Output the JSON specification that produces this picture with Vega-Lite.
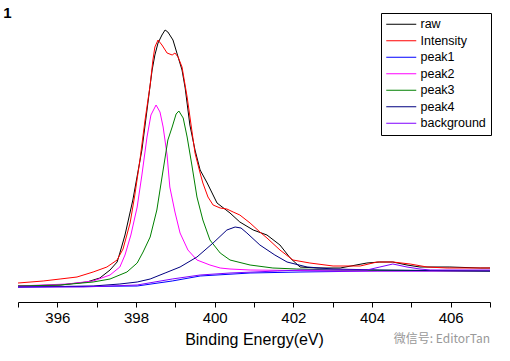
{
  "$schema": "https://vega.github.io/schema/vega-lite/v6.json",
  "width": 472,
  "height": 302,
  "autosize": {"type": "none"},
  "padding": {"left": 18, "top": 0, "right": 20, "bottom": 59},
  "background": "white",
  "title": {"text": "微信号: EditorTan", "orient": "bottom", "anchor": "end", "frame": "group", "fontSize": 12, "fontWeight": "normal", "color": "#999999", "font": "Noto Sans CJK SC", "dy": -17},
  "data": {"values": [
    {"s":"raw","x":395.00,"y":16},{"s":"raw","x":396.07,"y":17},{"s":"raw","x":396.75,"y":20},{"s":"raw","x":397.08,"y":24},{"s":"raw","x":397.34,"y":32},{"s":"raw","x":397.52,"y":40},{"s":"raw","x":397.59,"y":49},{"s":"raw","x":397.72,"y":67},{"s":"raw","x":397.92,"y":102},{"s":"raw","x":398.15,"y":152},{"s":"raw","x":398.28,"y":192},{"s":"raw","x":398.36,"y":217},{"s":"raw","x":398.41,"y":232},{"s":"raw","x":398.48,"y":247},{"s":"raw","x":398.56,"y":259},{"s":"raw","x":398.66,"y":267},{"s":"raw","x":398.74,"y":272},{"s":"raw","x":398.81,"y":270},{"s":"raw","x":398.94,"y":262},{"s":"raw","x":399.07,"y":245},{"s":"raw","x":399.17,"y":232},{"s":"raw","x":399.25,"y":214},{"s":"raw","x":399.37,"y":177},{"s":"raw","x":399.50,"y":152},{"s":"raw","x":399.63,"y":132},{"s":"raw","x":399.81,"y":119},{"s":"raw","x":400.06,"y":99},{"s":"raw","x":400.39,"y":89},{"s":"raw","x":400.64,"y":80},{"s":"raw","x":400.98,"y":72},{"s":"raw","x":401.33,"y":67},{"s":"raw","x":401.66,"y":57},{"s":"raw","x":401.92,"y":44},{"s":"raw","x":402.17,"y":35},{"s":"raw","x":402.60,"y":34},{"s":"raw","x":403.19,"y":34},{"s":"raw","x":403.87,"y":39},{"s":"raw","x":404.20,"y":40},{"s":"raw","x":404.53,"y":40},{"s":"raw","x":404.89,"y":37},{"s":"raw","x":405.22,"y":35},{"s":"raw","x":405.98,"y":35},{"s":"raw","x":406.75,"y":34},{"s":"raw","x":407.00,"y":34},
    {"s":"Intensity","x":395.00,"y":19},{"s":"Intensity","x":395.64,"y":21},{"s":"Intensity","x":396.07,"y":23},{"s":"Intensity","x":396.50,"y":25},{"s":"Intensity","x":396.91,"y":30},{"s":"Intensity","x":397.26,"y":35},{"s":"Intensity","x":397.52,"y":42},{"s":"Intensity","x":397.67,"y":53},{"s":"Intensity","x":397.85,"y":79},{"s":"Intensity","x":397.97,"y":107},{"s":"Intensity","x":398.10,"y":142},{"s":"Intensity","x":398.23,"y":182},{"s":"Intensity","x":398.36,"y":217},{"s":"Intensity","x":398.43,"y":242},{"s":"Intensity","x":398.48,"y":255},{"s":"Intensity","x":398.56,"y":262},{"s":"Intensity","x":398.66,"y":257},{"s":"Intensity","x":398.79,"y":249},{"s":"Intensity","x":398.92,"y":247},{"s":"Intensity","x":398.99,"y":249},{"s":"Intensity","x":399.07,"y":245},{"s":"Intensity","x":399.17,"y":235},{"s":"Intensity","x":399.30,"y":205},{"s":"Intensity","x":399.40,"y":177},{"s":"Intensity","x":399.50,"y":149},{"s":"Intensity","x":399.63,"y":129},{"s":"Intensity","x":399.70,"y":119},{"s":"Intensity","x":399.83,"y":105},{"s":"Intensity","x":399.96,"y":97},{"s":"Intensity","x":400.14,"y":94},{"s":"Intensity","x":400.31,"y":93},{"s":"Intensity","x":400.47,"y":90},{"s":"Intensity","x":400.64,"y":87},{"s":"Intensity","x":400.90,"y":79},{"s":"Intensity","x":401.15,"y":70},{"s":"Intensity","x":401.33,"y":64},{"s":"Intensity","x":401.66,"y":52},{"s":"Intensity","x":401.99,"y":42},{"s":"Intensity","x":402.42,"y":39},{"s":"Intensity","x":403.01,"y":36},{"s":"Intensity","x":403.70,"y":36},{"s":"Intensity","x":404.13,"y":40},{"s":"Intensity","x":404.53,"y":40},{"s":"Intensity","x":404.97,"y":38},{"s":"Intensity","x":405.40,"y":35},{"s":"Intensity","x":405.91,"y":34},{"s":"Intensity","x":407.00,"y":34},
    {"s":"peak1","x":395.00,"y":15},{"s":"peak1","x":398.03,"y":16},{"s":"peak1","x":398.92,"y":21},{"s":"peak1","x":399.63,"y":26},{"s":"peak1","x":400.90,"y":29},{"s":"peak1","x":402.17,"y":30},{"s":"peak1","x":404.13,"y":31},{"s":"peak1","x":407.00,"y":31},
    {"s":"peak2","x":395.00,"y":16},{"s":"peak2","x":396.25,"y":18},{"s":"peak2","x":396.91,"y":21},{"s":"peak2","x":397.34,"y":27},{"s":"peak2","x":397.59,"y":35},{"s":"peak2","x":397.72,"y":47},{"s":"peak2","x":397.87,"y":67},{"s":"peak2","x":398.03,"y":95},{"s":"peak2","x":398.15,"y":127},{"s":"peak2","x":398.28,"y":165},{"s":"peak2","x":398.38,"y":187},{"s":"peak2","x":398.51,"y":197},{"s":"peak2","x":398.61,"y":190},{"s":"peak2","x":398.69,"y":175},{"s":"peak2","x":398.79,"y":147},{"s":"peak2","x":398.86,"y":115},{"s":"peak2","x":398.99,"y":90},{"s":"peak2","x":399.12,"y":69},{"s":"peak2","x":399.32,"y":52},{"s":"peak2","x":399.55,"y":42},{"s":"peak2","x":399.88,"y":37},{"s":"peak2","x":400.14,"y":34},{"s":"peak2","x":400.39,"y":33},{"s":"peak2","x":400.90,"y":32},{"s":"peak2","x":403.19,"y":31},{"s":"peak2","x":407.00,"y":31},
    {"s":"peak3","x":395.00,"y":16},{"s":"peak3","x":396.07,"y":17},{"s":"peak3","x":396.91,"y":20},{"s":"peak3","x":397.34,"y":23},{"s":"peak3","x":397.77,"y":30},{"s":"peak3","x":398.03,"y":39},{"s":"peak3","x":398.18,"y":50},{"s":"peak3","x":398.36,"y":65},{"s":"peak3","x":398.53,"y":92},{"s":"peak3","x":398.69,"y":132},{"s":"peak3","x":398.81,"y":162},{"s":"peak3","x":398.92,"y":175},{"s":"peak3","x":399.02,"y":188},{"s":"peak3","x":399.09,"y":191},{"s":"peak3","x":399.20,"y":184},{"s":"peak3","x":399.30,"y":165},{"s":"peak3","x":399.42,"y":137},{"s":"peak3","x":399.55,"y":105},{"s":"peak3","x":399.70,"y":82},{"s":"peak3","x":399.88,"y":62},{"s":"peak3","x":400.14,"y":49},{"s":"peak3","x":400.39,"y":42},{"s":"peak3","x":400.90,"y":37},{"s":"peak3","x":401.48,"y":34},{"s":"peak3","x":402.09,"y":33},{"s":"peak3","x":403.19,"y":32},{"s":"peak3","x":407.00,"y":31},
    {"s":"peak4","x":395.00,"y":15},{"s":"peak4","x":396.91,"y":16},{"s":"peak4","x":397.59,"y":18},{"s":"peak4","x":398.03,"y":20},{"s":"peak4","x":398.36,"y":23},{"s":"peak4","x":398.74,"y":29},{"s":"peak4","x":399.12,"y":35},{"s":"peak4","x":399.55,"y":45},{"s":"peak4","x":399.96,"y":59},{"s":"peak4","x":400.31,"y":72},{"s":"peak4","x":400.52,"y":75},{"s":"peak4","x":400.67,"y":74},{"s":"peak4","x":400.82,"y":69},{"s":"peak4","x":401.15,"y":57},{"s":"peak4","x":401.53,"y":47},{"s":"peak4","x":401.84,"y":40},{"s":"peak4","x":402.35,"y":35},{"s":"peak4","x":403.01,"y":33},{"s":"peak4","x":404.20,"y":32},{"s":"peak4","x":407.00,"y":31},
    {"s":"background","x":395.00,"y":15},{"s":"background","x":396.65,"y":15},{"s":"background","x":397.34,"y":16},{"s":"background","x":398.03,"y":17},{"s":"background","x":398.92,"y":23},{"s":"background","x":399.63,"y":27},{"s":"background","x":400.39,"y":29},{"s":"background","x":401.59,"y":31},{"s":"background","x":402.17,"y":32},{"s":"background","x":403.70,"y":32},{"s":"background","x":403.87,"y":32},{"s":"background","x":404.20,"y":35},{"s":"background","x":404.53,"y":38},{"s":"background","x":404.89,"y":35},{"s":"background","x":405.22,"y":33},{"s":"background","x":405.48,"y":32},{"s":"background","x":407.00,"y":32}
  ]},
  "mark": {"type": "line", "strokeWidth": 1, "clip": true},
  "encoding": {
    "x": {"field": "x", "type": "quantitative",
      "scale": {"domain": [395, 407], "nice": false, "zero": false},
      "axis": {"title": "Binding Energy(eV)", "values": [395,396,397,398,399,400,401,402,403,404,405,406,407],
        "labelExpr": "datum.value % 2 == 0 ? datum.label : ''", "format": "d", "labelOverlap": false, "labelFlush": false,
        "grid": false, "domainColor": "black", "tickColor": "black", "tickSize": 5, "labelFontSize": 15,
        "labelFont": "Liberation Sans", "labelColor": "black", "labelPadding": 3,
        "titleFontSize": 16, "titleFont": "Liberation Sans", "titleColor": "black", "titleFontWeight": "normal", "titlePadding": 6}},
    "y": {"field": "y", "type": "quantitative",
      "scale": {"domain": [0, 302], "nice": false},
      "axis": {"domain": false, "ticks": false, "labels": false, "grid": false, "title": "1",
        "titleAngle": 0, "titleFontSize": 15, "titleFont": "Liberation Sans", "titleFontWeight": "bold", "titleColor": "black",
        "titleX": -11, "titleY": 17, "titleAlign": "center", "titleBaseline": "alphabetic"}},
    "color": {"field": "s", "type": "nominal",
      "scale": {"domain": ["raw","Intensity","peak1","peak2","peak3","peak4","background"],
        "range": ["#000000","#FF0000","#0000FF","#FF00FF","#008000","#000080","#8000FF"]},
      "legend": {"title": null, "orient": "none", "legendX": 363, "legendY": 13, "symbolType": "M-5,0H5", "symbolSize": 36,
        "symbolOffset": 9, "symbolStrokeWidth": 1, "labelFont": "Liberation Sans", "labelFontSize": 12.5, "labelColor": "black",
        "strokeColor": "black", "padding": 5, "labelOffset": 13, "rowPadding": 3.5}}
  },
  "config": {"view": {"stroke": null}}
}
